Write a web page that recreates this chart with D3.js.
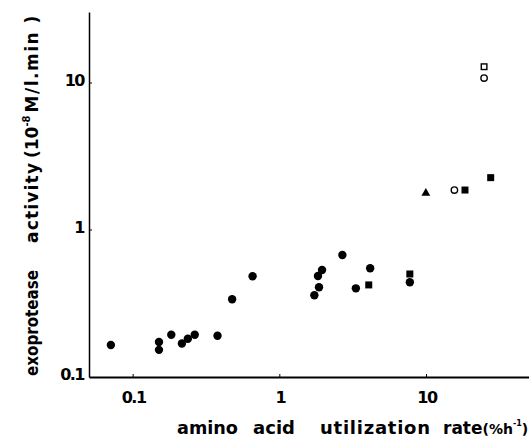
<!DOCTYPE html>
<html>
<head>
<meta charset="utf-8">
<script src="https://cdn.jsdelivr.net/npm/d3@7"></script>
<style>
  body { margin: 0; background: #fff; }
  svg { display: block; }
  text { font-family: "DejaVu Sans", sans-serif; font-weight: bold; fill: #000; }
</style>
</head>
<body>
<svg id="graph" width="529" height="437"></svg>
<script>
// values (x = utilization rate %/h, y = exoprotease activity)
const filledCircleX = [0.0705, 0.150, 0.150, 0.182, 0.215, 0.236, 0.263, 0.376, 0.473, 0.652,
                       1.72, 1.85, 1.82, 1.94, 2.67, 3.30, 4.13, 7.70];
const filledCircleY = [0.165, 0.173, 0.153, 0.194, 0.169, 0.182, 0.194, 0.191, 0.338, 0.484,
                       0.360, 0.408, 0.487, 0.535, 0.676, 0.401, 0.549, 0.441];
const filledSquareX = [4.04, 7.70, 18.3, 27.4];
const filledSquareY = [0.423, 0.502, 1.87, 2.27];
const openCircleX = [15.5, 24.7];
const openCircleY = [1.87, 10.8];
const openSquareX = [24.7];
const openSquareY = [12.9];
const triangleX = [9.9];
const triangleY = [1.78];
const xTicks = [0.1, 1, 10];
const yTicks = [0.1, 1, 10];
const tickText = ["0.1", "1", "10"];

const svg = d3.select("#graph");

const x = d3.scaleLog().domain([0.05, 50]).range([89, 529]);
const y = d3.scaleLog().domain([0.1, 30.4]).range([377, 12]);

const pts = (xs, ys) => xs.map((v, i) => ({ x: v, y: ys[i] }));

// axes
const xAxis = d3.axisBottom(x).tickValues(xTicks).tickSize(0).tickFormat((d, i) => tickText[i]);
const yAxis = d3.axisLeft(y).tickValues(yTicks).tickSize(0).tickFormat((d, i) => tickText[i]);

const gx = svg.append("g").attr("transform", `translate(0,${y(0.1)})`).call(xAxis);
gx.attr("font-family", null).attr("font-size", null);
gx.select(".domain").attr("stroke", "#000").attr("stroke-width", 2);
gx.selectAll("text").attr("y", 15).attr("dy", "0.71em")
  .style("font-size", "16px").attr("letter-spacing", -1.5);

const gy = svg.append("g").attr("transform", `translate(${x(0.05)},0)`).call(yAxis);
gy.attr("font-family", null).attr("font-size", null);
gy.select(".domain").attr("stroke", "#000").attr("stroke-width", 1.5);
gy.selectAll("text").attr("x", -5).attr("dy", "0.15em")
  .style("font-size", "16px").attr("letter-spacing", -1.5);

// small inner tick marks
svg.append("g").selectAll("line").data(xTicks).join("line")
  .attr("x1", d => x(d)).attr("x2", d => x(d))
  .attr("y1", y(0.1)).attr("y2", y(0.1) - 3)
  .attr("stroke", "#000").attr("stroke-width", 1);
svg.append("g").selectAll("line").data(yTicks.slice(1)).join("line")
  .attr("x1", x(0.05)).attr("x2", x(0.05) + 3)
  .attr("y1", d => y(d)).attr("y2", d => y(d))
  .attr("stroke", "#000").attr("stroke-width", 1);

// marks
svg.append("g").selectAll("circle").data(pts(filledCircleX, filledCircleY)).join("circle")
  .attr("cx", d => x(d.x)).attr("cy", d => y(d.y)).attr("r", 4.2).attr("fill", "#000");

svg.append("g").selectAll("rect").data(pts(filledSquareX, filledSquareY)).join("rect")
  .attr("x", d => x(d.x) - 3.5).attr("y", d => y(d.y) - 3.5)
  .attr("width", 7).attr("height", 7).attr("fill", "#000");

svg.append("g").selectAll("circle").data(pts(openCircleX, openCircleY)).join("circle")
  .attr("cx", d => x(d.x)).attr("cy", d => y(d.y)).attr("r", 3.2)
  .attr("fill", "#fff").attr("stroke", "#000").attr("stroke-width", 1.4);

svg.append("g").selectAll("rect").data(pts(openSquareX, openSquareY)).join("rect")
  .attr("x", d => x(d.x) - 2.8).attr("y", d => y(d.y) - 2.8)
  .attr("width", 5.6).attr("height", 5.6)
  .attr("fill", "#fff").attr("stroke", "#000").attr("stroke-width", 1.4);

svg.append("g").selectAll("path").data(pts(triangleX, triangleY)).join("path")
  .attr("transform", d => `translate(${x(d.x)},${y(d.y)})`)
  .attr("d", d3.symbol(d3.symbolTriangle, 34))
  .attr("fill", "#000");

// x axis title, word by word (widely spaced in the original)
const xWords = [
  { t: "amino", x0: 177, len: 61, size: 18, adj: "spacingAndGlyphs" },
  { t: "acid", x0: 253, len: 42, size: 18, adj: "spacing" },
  { t: "utilization", x0: 320, len: 110, size: 18, adj: "spacing" }
];
const xt = svg.append("g").attr("transform", "translate(0,434)");
xt.selectAll("text").data(xWords).join("text")
  .attr("x", d => d.x0).attr("textLength", d => d.len).attr("lengthAdjust", d => d.adj)
  .style("font-size", d => d.size + "px").text(d => d.t);

// "rate (%h-1)" as one text with a superscript
const unit = xt.append("text").attr("x", 443);
unit.append("tspan").style("font-size", "17px").text("rate");
unit.append("tspan").style("font-size", "14px").text("(%h");
unit.append("tspan").attr("dy", -8).style("font-size", "8px").text("-1");
unit.append("tspan").attr("dy", 8).style("font-size", "14px").text(")");

// y axis title, rotated, pieces placed along the axis
const yWords = [
  { t: "exoprotease", y0: 376, len: 106, size: 17, adj: "spacingAndGlyphs" },
  { t: "activity", y0: 243, len: 80, size: 17, adj: "spacing" }
];
svg.append("g").selectAll("text").data(yWords).join("text")
  .attr("transform", d => `translate(38,${d.y0}) rotate(-90)`)
  .attr("textLength", d => d.len).attr("lengthAdjust", d => d.adj)
  .style("font-size", d => d.size + "px").text(d => d.t);

const yUnit = svg.append("text").attr("transform", "translate(38,158) rotate(-90)");
yUnit.append("tspan").style("font-size", "17px").text("(10");
yUnit.append("tspan").attr("dy", -8).style("font-size", "10px").text("-8");
yUnit.append("tspan").attr("dy", 8).attr("dx", 3).attr("letter-spacing", 1.5)
  .style("font-size", "17px").text("M/l.min )");
</script>
</body>
</html>
